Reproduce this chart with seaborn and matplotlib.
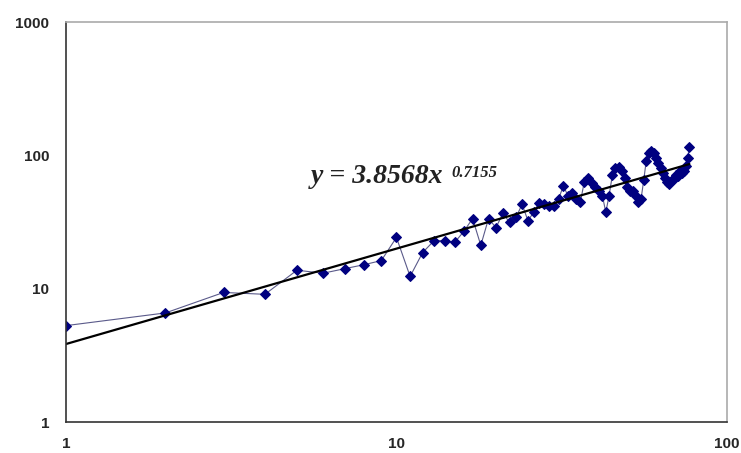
import numpy as np
import pandas as pd
import matplotlib
matplotlib.use("Agg")
import matplotlib.pyplot as plt
import seaborn as sns

# ── Data ──────────────────────────────────────────────────────────────────────
x_vals = list(range(1, 78))
y_vals = [
    5.3, 6.6, 9.4, 9.1, 13.8, 13.1, 14.2, 15.2, 16.3, 24.3,
    12.4, 18.7, 23.0, 23.0, 22.3, 27.0, 33.7, 21.2, 33.7, 28.8,
    36.8, 31.5, 34.4, 43.0, 32.5, 37.4, 44.4, 43.6, 42.0, 42.0,
    47.6, 59.5, 50.0, 52.0, 47.6, 44.5, 63.0, 68.0, 62.0, 57.6,
    54.5, 50.0, 37.5, 50.0, 71.0, 81.0, 82.0, 77.0, 68.0, 58.5,
    54.5, 54.5, 50.0, 44.5, 47.6, 65.0, 91.5, 105.0, 108.0, 104.0,
    96.0, 88.5, 81.0, 73.5, 68.0, 63.5, 61.5, 65.0, 67.0, 71.0,
    70.0, 76.0, 73.5, 77.0, 84.0, 96.0, 115.0,
]
fit_coef = 3.8568
fit_exp = 0.7155
x_ticks = [1, 10, 100]
y_ticks = [1, 10, 100, 1000]

df = pd.DataFrame({"x": x_vals, "y": y_vals})
fit_x = np.linspace(1, max(x_vals), 200)
fit_df = pd.DataFrame({"x": fit_x, "y": fit_coef * fit_x ** fit_exp})

# ── Plot ──────────────────────────────────────────────────────────────────────
sns.set_style("white")
plt.rcParams["font.family"] = ["Liberation Sans", "DejaVu Sans"]

fig = plt.figure(figsize=(7.41, 4.53), dpi=100)
ax = fig.add_axes([0.089, 0.068, 0.892, 0.883])

sns.lineplot(data=df, x="x", y="y", ax=ax, color="#5a5a8a", linewidth=0.8,
             marker="D", markersize=5, markerfacecolor="#000080",
             markeredgecolor="#000080")
sns.lineplot(data=fit_df, x="x", y="y", ax=ax, color="black", linewidth=1.6)

ax.set_xscale("log")
ax.set_yscale("log")
ax.set_xlim(1, 100)
ax.set_ylim(1, 1000)
ax.set_xticks(x_ticks)
ax.set_xticklabels([str(t) for t in x_ticks])
ax.set_yticks(y_ticks)
ax.set_yticklabels([str(t) for t in y_ticks])
ax.minorticks_off()
ax.set_xlabel("")
ax.set_ylabel("")

ax.tick_params(axis="both", which="major", labelsize=11, length=4,
               width=1, color="#444444", pad=8)
ax.tick_params(axis="x", direction="inout", length=6)
ax.tick_params(axis="y", direction="out")
for lbl in ax.get_xticklabels() + ax.get_yticklabels():
    lbl.set_fontweight("bold")

for side in ("left", "bottom"):
    ax.spines[side].set_color("#333333")
    ax.spines[side].set_linewidth(1.2)
for side in ("top", "right"):
    ax.spines[side].set_visible(True)
    ax.spines[side].set_color("#aaaaaa")
    ax.spines[side].set_linewidth(1.2)

# trendline equation, Excel style (bold italic serif with superscript)
serif = ["Liberation Serif", "DejaVu Serif"]
eq = ax.text(0.37, 0.598, f"y = {fit_coef}x", transform=ax.transAxes,
             fontsize=20, fontstyle="italic", fontweight="bold",
             family=serif, color="#222222", va="baseline", ha="left")
ax.annotate(f"{fit_exp}", xy=(1, 1), xycoords=eq, xytext=(6, -1),
            textcoords="offset points", fontsize=12, fontstyle="italic",
            fontweight="bold", family=serif, color="#222222",
            va="top", ha="left")

fig.savefig("out.png", dpi=100)
